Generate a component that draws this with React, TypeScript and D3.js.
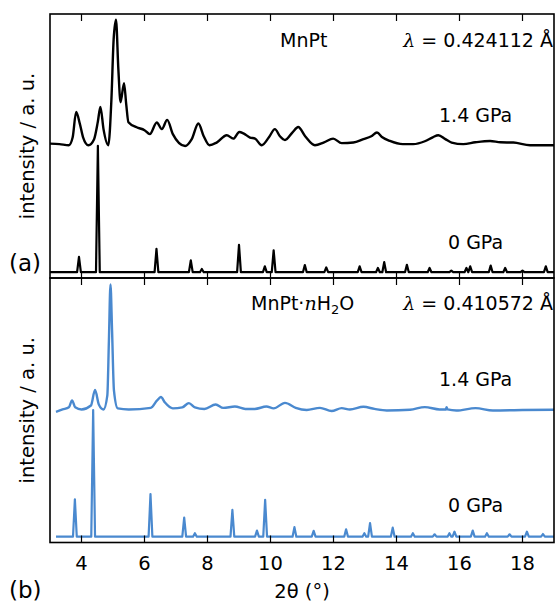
import React from "react";
import * as d3 from "d3";

// 2θ axis
const xTicks = [4, 6, 8, 10, 12, 14, 16, 18];

// (a) MnPt, 0 GPa: sharp reflections [2θ, intensity]
const mnPt0Peaks: [number, number][] = [
  [3.92, 5.8], [4.52, 47.9], [6.38, 8.8], [7.47, 4.5], [7.82, 1.2],
  [9.0, 10.4], [9.82, 2.2], [10.1, 8.3], [11.09, 2.7], [11.77, 1.8],
  [12.83, 2.2], [13.41, 1.6], [13.61, 3.8], [14.33, 2.8], [15.05, 1.6],
  [15.74, 0.6], [16.22, 1.6], [16.34, 2.2], [16.99, 2.5], [17.45, 1.6],
  [18.0, 0.6], [18.74, 2.2],
];

// (a) MnPt, 1.4 GPa: measured profile [2θ, intensity]
const mnPt14: [number, number][] = [
  [3.0, 0.6], [3.3, 0.4], [3.6, 0], [3.72, 3], [3.83, 12.6], [3.95, 8],
  [4.05, 3], [4.22, 0], [4.4, 2.3], [4.52, 9], [4.6, 14.5], [4.7, 6],
  [4.85, 0], [4.95, 17.4], [5.02, 40], [5.095, 47.5], [5.17, 28.8],
  [5.24, 16.3], [5.35, 23.5], [5.42, 15.5], [5.49, 8.7], [5.75, 6.8],
  [6.0, 5.7], [6.17, 4.2], [6.39, 8.6], [6.55, 6.1], [6.72, 9.6],
  [6.9, 4.2], [7.29, -0.3], [7.5, 2.3], [7.71, 8.2], [7.88, 3.4],
  [8.06, 0], [8.29, 1], [8.61, 3.8], [8.82, 2.5], [9.01, 5], [9.14, 4.5],
  [9.35, 2.9], [9.51, 2.5], [9.72, 0], [9.95, 3], [10.14, 6.1],
  [10.3, 3.4], [10.46, 2], [10.7, 4.9], [10.88, 6.9], [11.1, 3.4],
  [11.41, 0], [11.7, 1.1], [11.99, 2.5], [12.26, 0.8], [12.63, 1],
  [12.95, 2.3], [13.2, 3.4], [13.38, 4.8], [13.55, 3], [13.79, 1.6],
  [14.2, 0.4], [14.53, 0.4], [14.9, 1.5], [15.15, 3], [15.33, 3.8],
  [15.55, 2.3], [15.75, 1], [16.12, 0.4], [16.5, 1.1], [16.97, 1.6],
  [17.3, 1.1], [17.71, 1], [18.24, 0], [19.0, 0],
];

// (b) MnPt·nH2O, 0 GPa: sharp reflections [2θ, intensity]
const hydrate0Peaks: [number, number][] = [
  [3.79, 14.1], [4.37, 47.9], [6.19, 16.1], [7.26, 7.2], [7.6, 1.3],
  [8.79, 10.1], [9.57, 2.3], [9.83, 13.9], [10.76, 3.6], [11.37, 2.2],
  [12.4, 2.8], [12.98, 1.3], [13.16, 5.1], [13.88, 3.4], [14.52, 1.3],
  [15.21, 0.9], [15.68, 1.3], [15.84, 1.9], [16.42, 2.3], [16.87, 1.3],
  [17.59, 0.9], [18.14, 1.9], [18.65, 1],
];

// (b) MnPt·nH2O, 1.4 GPa: measured profile [2θ, intensity]
const hydrate14: [number, number][] = [
  [3.19, -0.9], [3.4, 0], [3.6, 0.8], [3.7, 3.4], [3.8, 0.8], [4.0, 0],
  [4.3, 1.5], [4.43, 7.4], [4.55, 1.9], [4.7, 0], [4.82, 5.3], [4.87, 26],
  [4.92, 47.3], [4.97, 29.9], [5.03, 7.2], [5.15, 0.4], [5.5, 0],
  [6.2, 0.6], [6.4, 3.4], [6.52, 4.7], [6.65, 2.6], [6.9, 0.4], [7.2, 0.8],
  [7.41, 2.4], [7.6, 0.8], [7.9, 0.2], [8.26, 1.9], [8.5, 0.6], [8.87, 1.1],
  [9.2, 0.2], [9.5, 0.2], [9.87, 1.1], [10.1, 0.4], [10.46, 2.5],
  [10.8, 0.6], [11.15, -0.2], [11.57, 0.6], [11.94, -0.6], [12.26, 0.5],
  [12.52, 0], [12.95, 1], [13.3, 0.2], [13.69, -0.4], [14.43, -0.1],
  [14.9, 0.9], [15.37, 0], [15.57, 0], [15.59, 0.9], [15.62, 0],
  [15.9, -0.4], [16.51, 0.5], [17.06, -0.4], [18.0, -0.2], [19.0, -0.1],
];

// vertical offsets of the stacked patterns
const offsets = { low: 2.2, high: 50.3 };

const W = 557;
const H = 604;
const left = 50;
const right = 554;
const panels = [
  { top: 14, bottom: 278 },
  { top: 278, bottom: 542.5 },
];

const FONT = "'DejaVu Sans', sans-serif";
const BLUE = "#4a89cf";

function stickProfile(peaks: [number, number][], lo: number, hi: number) {
  const pts: [number, number][] = [[lo, 0]];
  const w = 0.06;
  peaks.forEach(([p, h]) => {
    pts.push([p - w, 0], [p, h], [p + w, 0]);
  });
  pts.push([hi, 0]);
  return pts;
}

export default function App() {
  const x = d3.scaleLinear().domain([3, 19]).range([left, right]);

  const panelData = [
    {
      color: "#000",
      low: stickProfile(mnPt0Peaks, 3.0, 19),
      high: mnPt14,
    },
    {
      color: BLUE,
      low: stickProfile(hydrate0Peaks, 3.19, 19),
      high: hydrate14,
    },
  ];

  return (
    <svg
      width={W}
      height={H}
      style={{ position: "absolute", left: 0, top: 0, background: "#fff" }}
      fontFamily={FONT}
    >
      <defs>
        {panels.map((p, i) => (
          <clipPath id={`clip${i}`} key={i}>
            <rect x={left} y={p.top} width={right - left} height={p.bottom - p.top} />
          </clipPath>
        ))}
      </defs>
      {panels.map((p, i) => {
        const y = d3.scaleLinear().domain([0, 100]).range([p.bottom, p.top]);
        const lineLow = d3
          .line<[number, number]>()
          .x((d) => x(d[0]))
          .y((d) => y(d[1] + offsets.low));
        const lineHigh = d3
          .line<[number, number]>()
          .x((d) => x(d[0]))
          .y((d) => y(d[1] + offsets.high))
          .curve(d3.curveMonotoneX);
        const pd = panelData[i];
        return (
          <g key={i}>
            <g clipPath={`url(#clip${i})`}>
              <path d={lineHigh(pd.high) || ""} fill="none" stroke={pd.color} strokeWidth={2.4} strokeLinejoin="round" />
              <path d={lineLow(pd.low) || ""} fill="none" stroke={pd.color} strokeWidth={2.2} strokeLinejoin="round" />
            </g>
            {xTicks.map((t) => (
              <g key={t}>
                <line x1={x(t)} x2={x(t)} y1={p.top} y2={p.top + 7} stroke="#000" strokeWidth={1.2} />
                <line x1={x(t)} x2={x(t)} y1={p.bottom} y2={p.bottom - 7} stroke="#000" strokeWidth={1.2} />
              </g>
            ))}
            <rect
              x={left}
              y={p.top}
              width={right - left}
              height={p.bottom - p.top}
              fill="none"
              stroke="#000"
              strokeWidth={1.6}
            />
            <text
              transform={`translate(34,${(p.top + p.bottom) / 2}) rotate(-90)`}
              textAnchor="middle"
              fontSize={19.5}
            >
              intensity / a. u.
            </text>
          </g>
        );
      })}

      {/* annotations panel (a) */}
      <g fontSize={19}>
        <text x={280} y={47}>MnPt</text>
        <text x={553} y={47} textAnchor="end">
          <tspan fontFamily="'DejaVu Serif', serif" fontStyle="italic">λ</tspan> = 0.424112 Å
        </text>
        <text x={439} y={122}>1.4 GPa</text>
        <text x={448} y={249}>0 GPa</text>
        <text x={9} y={271} fontSize={23}>(a)</text>

        {/* annotations panel (b) */}
        <text x={251} y={310}>
          MnPt·<tspan fontFamily="'DejaVu Serif', serif" fontStyle="italic">n</tspan>H
          <tspan fontSize={13} dy={4}>2</tspan>
          <tspan dy={-4}>O</tspan>
        </text>
        <text x={553} y={310} textAnchor="end">
          <tspan fontFamily="'DejaVu Serif', serif" fontStyle="italic">λ</tspan> = 0.410572 Å
        </text>
        <text x={439} y={386}>1.4 GPa</text>
        <text x={448} y={512}>0 GPa</text>
        <text x={9} y={598} fontSize={23}>(b)</text>
      </g>

      {/* x axis labels */}
      <g fontSize={19.5} textAnchor="middle">
        {xTicks.map((t) => (
          <text key={t} x={x(t)} y={570}>{t}</text>
        ))}
        <text x={(left + right) / 2} y={598}>2θ (°)</text>
      </g>
    </svg>
  );
}
